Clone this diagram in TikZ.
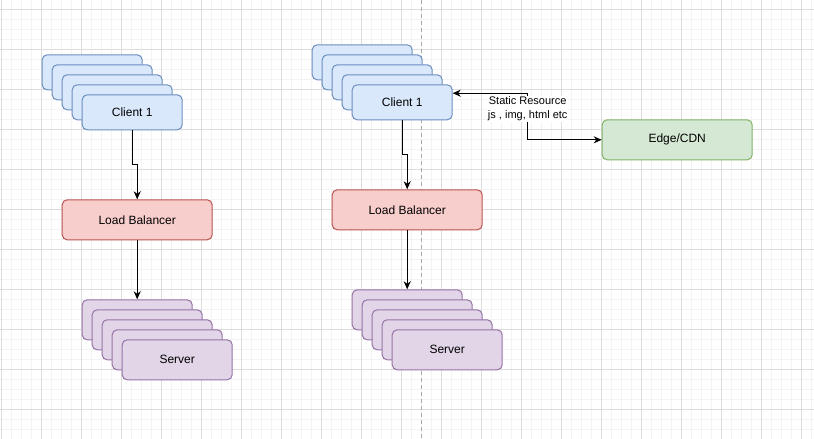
\documentclass[tikz,border=0pt]{standalone}
\usepackage{fontspec}
\setmainfont{Liberation Sans}
\usetikzlibrary{arrows.meta,calc}
\definecolor{blueF}{HTML}{DAE8FC}
\definecolor{blueD}{HTML}{6C8EBF}
\definecolor{redF}{HTML}{F8CECC}
\definecolor{redD}{HTML}{B85450}
\definecolor{greenF}{HTML}{D5E8D4}
\definecolor{greenD}{HTML}{82B366}
\definecolor{purF}{HTML}{E1D5E7}
\definecolor{purD}{HTML}{9673A6}
\definecolor{gridminor}{HTML}{F3F3F3}
\definecolor{gridmajor}{HTML}{DDDDDD}
\definecolor{sepline}{HTML}{AAAAAA}
\tikzset{
  box/.style={draw, rounded corners=5pt, line width=1pt, inner sep=0pt, anchor=north west,
    font=\fontsize{12}{14}\selectfont},
  clientbox/.style={box, fill=blueF, draw=blueD, minimum width=100pt, minimum height=35pt},
  lbbox/.style={box, fill=redF, draw=redD, minimum width=150pt, minimum height=40pt},
  serverbox/.style={box, fill=purF, draw=purD, minimum width=110pt, minimum height=40pt},
  cdnbox/.style={box, fill=greenF, draw=greenD, minimum width=150pt, minimum height=40pt},
  arr/.style={-{Stealth[length=8pt,width=7pt,inset=2.5pt]}, line width=1pt},
  biarr/.style={{Stealth[length=8pt,width=7pt,inset=2.5pt]}-{Stealth[length=8pt,width=7pt,inset=2.5pt]}, line width=1pt},
  lbl/.style={fill=white, align=center, inner sep=1pt, font=\fontsize{11}{13.3}\selectfont},
}
\begin{document}
\begin{tikzpicture}[x=1pt,y=-1pt]
\useasboundingbox (0,0) rectangle (814,439);
\fill[white] (0,0) rectangle (814,439);
% grid
\foreach \i in {0,...,81} \draw[gridminor, line width=1pt] (1.3+10*\i,0) -- (1.3+10*\i,439);
\foreach \j in {0,...,42} \draw[gridminor, line width=1pt] (0,9.3+10*\j) -- (814,9.3+10*\j);
\foreach \i in {0,...,20} \draw[gridmajor, line width=1pt] (1.3+40*\i,0) -- (1.3+40*\i,439);
\foreach \j in {0,...,10} \draw[gridmajor, line width=1pt] (0,9.3+40*\j) -- (814,9.3+40*\j);
% separator
\draw[sepline, line width=1pt, dash pattern=on 4pt off 3pt] (421.7,0) -- (421.7,439);

% ---- left diagram ----
\foreach \k in {0,...,3} \node[clientbox] (lc\k) at (41.7+10*\k,54.3+10*\k) {};
\node[clientbox] (lclient) at (81.7,94.3) {Client 1};
\node[lbbox] (llb) at (61.7,199.3) {Load Balancer};
\foreach \k in {0,...,3} \node[serverbox] (ls\k) at (81.7+10*\k,299.3+10*\k) {};
\node[serverbox] (lserver) at (121.7,339.3) {Server};
\draw[arr] (lclient.south) |- ($(lclient.south)!0.5!(llb.north)$) -| (llb.north);
\draw[arr] (llb.south) -- (llb.south |- ls0.north);

% ---- right diagram ----
\foreach \k in {0,...,3} \node[clientbox] (rc\k) at (311.7+10*\k,44.3+10*\k) {};
\node[clientbox] (rclient) at (351.7,84.3) {Client 1};
\node[lbbox] (rlb) at (331.7,189.3) {Load Balancer};
\foreach \k in {0,...,3} \node[serverbox] (rs\k) at (351.7+10*\k,289.3+10*\k) {};
\node[serverbox] (rserver) at (391.7,329.3) {Server};
\node[cdnbox] (cdn) at (601.7,119.3) {Edge/CDN};
\draw[arr] (rclient.south) |- ($(rclient.south)!0.5!(rlb.north)$) -| (rlb.north);
\draw[arr] (rlb.south) -- (rlb.south |- rs0.north);
\draw[biarr] ([yshift=9.1pt]rclient.east) -- ++(75,0) |- node[lbl, pos=0.167] (slabel) {Static Resource\\js , img, html etc} (cdn.west);
\end{tikzpicture}
\end{document}
